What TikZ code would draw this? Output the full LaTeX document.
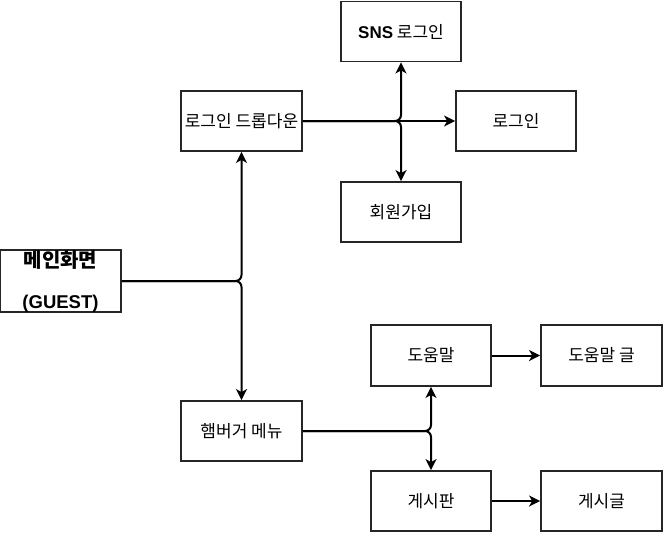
\documentclass[tikz,border=0pt]{standalone}
\usepackage{fontspec}
\setmainfont{Noto Sans CJK KR}
\newfontfamily\latinb{Liberation Sans}
\usetikzlibrary{arrows.meta}
\tikzset{
  box/.style={draw=black!85, line width=1.8pt, minimum width=120pt, minimum height=60pt, inner sep=0pt, font=\fontsize{17pt}{20pt}\selectfont, text=black},
  conn/.style={line width=2pt, black, rounded corners=6pt, -{Stealth[length=11pt,width=11pt,inset=3pt]}},
}
\begin{document}
\begin{tikzpicture}[x=1pt,y=-1pt]
\useasboundingbox (0,0) rectangle (663,533);
\node[box, minimum width=121pt, align=center, font=\bfseries\fontsize{20pt}{22pt}\selectfont] (main) at (60.5,281) {메인화면\\[19pt]{\latinb\bfseries\fontsize{18.5pt}{20pt}\selectfont (GUEST)}};
\node[box, minimum width=121pt] (drop) at (241.5,121) {로그인 드롭다운};
\node[box] (sns) at (401,31.5) {{\latinb\bfseries SNS} 로그인};
\node[box] (login) at (516,121) {로그인};
\node[box] (join) at (401,212) {회원가입};
\node[box, minimum width=121pt] (ham) at (241.5,431) {햄버거 메뉴};
\node[box, minimum height=61pt] (help) at (431,355.5) {도움말};
\node[box, minimum width=121pt, minimum height=61pt] (helppost) at (601.5,355.5) {도움말 글};
\node[box] (board) at (431,501) {게시판};
\node[box, minimum width=121pt] (post) at (601.5,501) {게시글};
\draw[conn] (main.east) -| (drop.south);
\draw[conn] (main.east) -| (ham.north);
\draw[conn, line width=2.8pt] (drop.east) -- (login.west);
\draw[conn] (drop.east) -| (sns.south);
\draw[conn] (drop.east) -| (join.north);
\draw[conn] (ham.east) -| (help.south);
\draw[conn] (ham.east) -| (board.north);
\draw[conn] (help.east) -- (helppost.west);
\draw[conn] (board.east) -- (post.west);
\end{tikzpicture}
\end{document}
